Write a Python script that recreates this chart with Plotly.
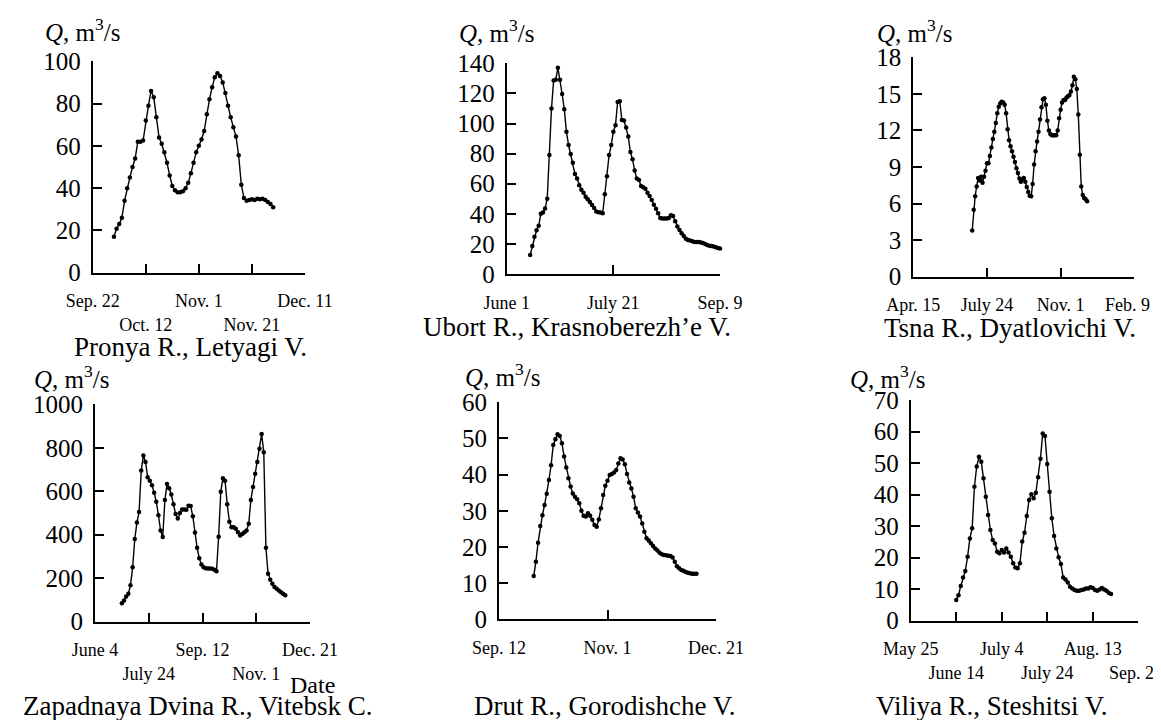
import plotly.graph_objects as go
from datetime import date, timedelta

# the page body has an 8 px margin on every side, so the figure is sized to fit inside it
OFF = 8
W, H = 1161 - 2 * OFF, 728 - 2 * OFF
FONT = "Liberation Serif"

# ---------------- data (discharge Q, m^3/s) ----------------
pronya_start, pronya_step = "2001-09-30", 1
pronya_q = [17, 20.8, 23, 26, 34, 40, 45, 50, 54, 62, 62, 62.5, 72, 79, 86, 83, 73.5, 64, 61, 57,
            52, 46, 41, 39, 38, 38, 38.5, 40, 42.5, 47, 52, 57, 60, 63, 67, 75, 82, 87.7, 92.4, 94.3,
            93, 90, 85, 79, 73.5, 68.8, 64.4, 55.5, 41.6, 35.3, 34, 34.4, 34.7, 34.4, 35, 34.7, 35,
            34.4, 33.4, 32.5, 31]
pronya_ticks = ["2001-09-22", "2001-10-12", "2001-11-01", "2001-11-21", "2001-12-11"]
pronya_labels = ["Sep. 22", "Oct. 12", "Nov. 1", "Nov. 21", "Dec. 11"]

ubort_start, ubort_step = "2001-06-12", 1
ubort_q = [12.6, 18.6, 24.8, 29, 32, 40, 40.8, 43.6, 50, 79, 110, 128.5, 129, 137, 129, 119.6, 109.4,
           94.6, 85.7, 79.7, 74, 66.5, 63.4, 59, 56, 54, 51.4, 49.6, 47.9, 45.9, 43.9, 41.6, 41, 40.8,
           40.3, 53, 65, 79, 85.7, 94.6, 98.8, 114.3, 114.8, 102.3, 102, 97.3, 91.3, 81, 76.2, 68.7,
           63.4, 62.5, 58.5, 57.6, 56.7, 54, 51.8, 49.2, 46, 43.4, 40.3, 37.2, 36.8, 36.8, 36.8, 37.2,
           39, 38.5, 35, 31.5, 29.2, 27, 25.3, 23.5, 22.6, 22.2, 21.7, 21.3, 21.3, 21.3, 21, 20.6, 20,
           19.3, 18.8, 18.6, 18.2, 17.7, 17.3, 17, 16.8, 16.6, 16.4]
ubort_ticks = ["2001-06-01", "2001-07-21", "2001-09-09"]
ubort_labels = ["June 1", "July 21", "Sep. 9"]

tsna_start, tsna_step = "2001-07-04", 2
tsna_q = [3.8, 5.5, 6.6, 7.4, 8.1, 7.9, 8.2, 7.7, 8.2, 8.7, 9.3, 9.3, 9.9, 10.6, 11.3, 11.9, 12.6,
          13.4, 13.95, 14.2, 14.35, 14.3, 14.1, 13.4, 12.1, 11.2, 10.7, 10.3, 9.85, 9.4, 8.9, 8.5,
          8.05, 7.8, 8.0, 8.1, 7.8, 7.35, 6.95, 6.65, 6.6, 7.6, 9.2, 10.3, 11.1, 11.9, 12.9, 13.9,
          14.55, 14.65, 14.1, 12.8, 12.0, 11.7, 11.6, 11.6, 11.6, 11.6, 12.0, 13.0, 13.7, 14.3, 14.5,
          14.5, 14.7, 14.8, 14.9, 15.2, 15.7, 16.4, 16.2, 15.4, 13.3, 10.0, 7.4, 6.7, 6.45, 6.35, 6.2]
tsna_ticks = ["2001-04-15", "2001-07-24", "2001-11-01", "2002-02-09"]
tsna_labels = ["Apr. 15", "July 24", "Nov. 1", "Feb. 9"]

dvina_start, dvina_step = "2001-06-29", 2
dvina_q = [85, 98, 116, 128, 168, 250, 380, 456, 505, 695, 765, 735, 665, 648, 628, 593, 552, 490,
           420, 390, 560, 633, 614, 585, 540, 495, 475, 500, 516, 516, 515, 533, 532, 485, 410, 340,
           292, 263, 251, 246, 245, 245, 244, 239, 232, 391, 598, 660, 648, 540, 460, 434, 434, 428,
           412, 396, 403, 412, 420, 450, 560, 620, 680, 735, 795, 863, 780, 340, 220, 193, 175, 160,
           152, 143, 136, 128, 122]
dvina_ticks = ["2001-06-04", "2001-07-24", "2001-09-12", "2001-11-01", "2001-12-21"]
dvina_labels = ["June 4", "July 24", "Sep. 12", "Nov. 1", "Dec. 21"]

drut_start, drut_step = "2001-09-28", 1
drut_q = [12.0, 15.9, 21.2, 25.8, 28.8, 31.6, 34.7, 38.5, 42.6, 48.2, 49.8, 51.2, 50.7, 48.7, 45.0,
          42.0, 39.0, 36.7, 34.8, 33.9, 33.2, 32.1, 30.0, 28.6, 28.4, 29.3, 28.6, 27.5, 26.1, 25.6,
          27.6, 30.7, 34.4, 36.9, 38.3, 39.9, 40.2, 40.6, 41.3, 43.1, 44.5, 44.2, 42.9, 40.2, 37.8,
          36.2, 33.9, 30.7, 29.5, 28.4, 26.5, 24.2, 22.4, 21.8, 21.0, 20.3, 19.6, 19.0, 18.4, 18.0,
          17.8, 17.7, 17.6, 17.5, 17.1, 15.9, 14.7, 14.1, 13.6, 13.4, 13.1, 12.9, 12.7, 12.6, 12.6, 12.6]
drut_ticks = ["2001-09-12", "2001-11-01", "2001-12-21"]
drut_labels = ["Sep. 12", "Nov. 1", "Dec. 21"]

viliya_start, viliya_step = "2001-06-14", 1
viliya_q = [6.6, 8.1, 11.0, 13.7, 15.8, 20.3, 26.1, 29.3, 42.5, 48.9, 52.0, 50.4, 45.2, 39.3, 33.5,
            28.8, 25.6, 24.5, 21.9, 21.4, 22.4, 21.6, 22.9, 21.6, 20.3, 18.2, 16.9, 16.6, 18.2, 25.1,
            27.9, 33.2, 38.3, 40.1, 38.8, 40.6, 45.5, 51.4, 59.4, 58.6, 49.7, 40.9, 32.5, 26.9, 22.9,
            20.1, 18.0, 13.7, 13.1, 12.1, 10.8, 10.2, 9.7, 9.5, 9.5, 9.7, 9.9, 10.2, 10.2, 10.6, 10.4,
            9.7, 9.5, 9.9, 10.4, 9.9, 9.5, 8.9, 8.5]
viliya_ticks = ["2001-05-25", "2001-06-14", "2001-07-04", "2001-07-24", "2001-08-13", "2001-09-02"]
viliya_labels = ["May 25", "June 14", "July 4", "July 24", "Aug. 13", "Sep. 2"]

titles = ["Pronya R., Letyagi V.", "Ubort R., Krasnoberezh\u2019e V.", "Tsna R., Dyatlovichi V.",
          "Zapadnaya Dvina R., Vitebsk C.", "Drut R., Gorodishche V.", "Viliya R., Steshitsi V."]
y_max = [100, 140, 18, 1000, 60, 70]
y_step = [20, 20, 3, 200, 10, 10]

# ---------------- layout geometry (window pixels) ----------------
# (x0, x1, ytop, ybottom), two_row_labels, pad_last_label, Q-label pos (left x, y), title pos (cx, cy)
geo = [
    ((92.7, 305.0, 61.3, 272.7), True, False, (43, 30), (190, 347)),
    ((506.7, 720.0, 63.3, 274.0), False, False, (457, 31), (577, 327)),
    ((913.3, 1134.3, 57.3, 276.7), False, True, (875, 31), (1010, 328)),
    ((95.0, 310.0, 404.3, 621.7), True, False, (32, 377), (198, 706)),
    ((499.0, 716.0, 402.3, 619.3), False, False, (463, 375), (605, 706)),
    ((910.7, 1138.3, 400.0, 620.7), True, True, (848, 377), (991, 706)),
]


def px(x):
    return (x - OFF) / W


def py(y):
    return 1 - (y - OFF) / H


series = [
    (pronya_start, pronya_step, pronya_q, pronya_ticks, pronya_labels),
    (ubort_start, ubort_step, ubort_q, ubort_ticks, ubort_labels),
    (tsna_start, tsna_step, tsna_q, tsna_ticks, tsna_labels),
    (dvina_start, dvina_step, dvina_q, dvina_ticks, dvina_labels),
    (drut_start, drut_step, drut_q, drut_ticks, drut_labels),
    (viliya_start, viliya_step, viliya_q, viliya_ticks, viliya_labels),
]

fig = go.Figure()
layout = dict(
    width=W, height=H, margin=dict(l=0, r=0, t=0, b=0, autoexpand=False),
    paper_bgcolor="white", plot_bgcolor="white", showlegend=False,
    font=dict(family=FONT, color="black"),
)
annotations = []
NB = "\u00a0"

for i, ((start, step, q, ticks, labels), (box, two_rows, pad_last, qpos, tpos)) in enumerate(zip(series, geo)):
    n = "" if i == 0 else str(i + 1)
    d0 = date.fromisoformat(start)
    xs = [d0 + timedelta(days=step * k) for k in range(len(q))]
    fig.add_trace(go.Scatter(
        x=xs, y=q, mode="lines+markers", xaxis="x" + n, yaxis="y" + n,
        line=dict(color="black", width=1.4), marker=dict(color="black", size=4.5),
        hoverinfo="skip", cliponaxis=False))
    x0, x1, yt, yb = box
    labs = list(labels)
    if pad_last:  # keep the right-most label inside the page edge
        labs[-1] = labs[-1] + NB * 3
    if two_rows:
        ttext = [(lab + "<br>" + NB) if k % 2 == 0 else (NB + "<br>" + lab) for k, lab in enumerate(labs)]
    else:
        ttext = labs
    layout["xaxis" + n] = dict(
        domain=[px(x0), px(x1)], anchor="y" + n, type="date",
        range=[ticks[0], ticks[-1]], tickmode="array", tickvals=ticks, ticktext=ttext,
        tickangle=0, automargin=False, ticklabeloverflow="allow",
        showline=True, linecolor="black", linewidth=2, ticks="inside", ticklen=9,
        tickwidth=2, tickcolor="black", showgrid=False, zeroline=False,
        tickfont=dict(family=FONT, size=18, color="black"), ticklabelstandoff=11,
        fixedrange=True)
    layout["yaxis" + n] = dict(
        domain=[py(yb), py(yt)], anchor="x" + n, automargin=False,
        range=[0, y_max[i]], tickmode="linear", tick0=0, dtick=y_step[i],
        showline=True, linecolor="black", linewidth=2, ticks="inside", ticklen=9,
        tickwidth=2, tickcolor="black", showgrid=False, zeroline=False,
        tickfont=dict(family=FONT, size=25, color="black"), ticklabelstandoff=5,
        fixedrange=True)
    annotations.append(dict(
        text="<i>Q</i>, m<sup>3</sup>/s", x=px(qpos[0]), y=py(qpos[1]),
        xref="paper", yref="paper", xanchor="left", yanchor="middle", showarrow=False,
        font=dict(family=FONT, size=25, color="black")))
    annotations.append(dict(
        text=titles[i], x=px(tpos[0]), y=py(tpos[1]),
        xref="paper", yref="paper", xanchor="center", yanchor="middle", showarrow=False,
        font=dict(family=FONT, size=27, color="black")))

annotations.append(dict(
    text="Date", x=px(312), y=py(685), xref="paper", yref="paper",
    xanchor="center", yanchor="middle", showarrow=False,
    font=dict(family=FONT, size=24, color="black")))

layout["annotations"] = annotations
fig.update_layout(**layout)
fig.write_html("out.html")
